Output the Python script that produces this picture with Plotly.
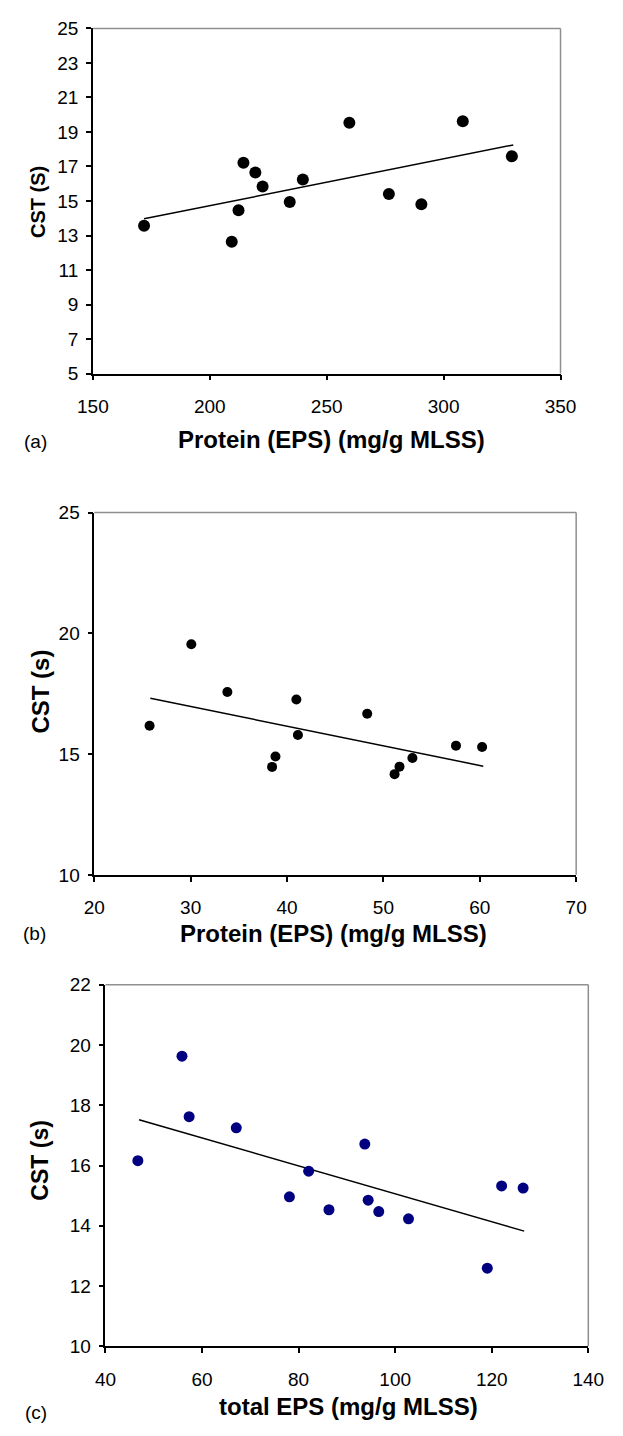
import plotly.graph_objects as go

W, H = 623, 1436

# ---- data ----
a_protein = [171.9, 209.4, 212.3, 214.4, 219.5, 222.6, 234.2, 239.8, 259.7, 276.6, 290.5, 308.2, 329.2]
a_cst = [13.57, 12.64, 14.47, 17.22, 16.65, 15.84, 14.94, 16.24, 19.54, 15.40, 14.81, 19.62, 17.59]
a_trend_x = [171.9, 329.8]
a_trend_y = [13.97, 18.25]

b_protein = [25.74, 30.07, 33.81, 38.45, 38.80, 40.97, 41.13, 48.32, 51.16, 51.67, 53.01, 57.53, 60.24]
b_cst = [16.17, 19.55, 17.57, 14.47, 14.90, 17.26, 15.79, 16.67, 14.17, 14.48, 14.84, 15.35, 15.29]
b_trend_x = [25.82, 60.36]
b_trend_y = [17.31, 14.50]

c_eps = [46.71, 55.85, 57.33, 67.09, 78.10, 82.08, 86.29, 93.71, 94.41, 96.60, 102.76, 119.08, 122.05, 126.50]
c_cst = [16.16, 19.63, 17.62, 17.25, 14.96, 15.81, 14.53, 16.71, 14.85, 14.47, 14.23, 12.59, 15.32, 15.25]
c_trend_x = [46.95, 126.73]
c_trend_y = [17.52, 13.82]

FONT = "Arial, Liberation Sans, sans-serif"

panels = [
    dict(x=a_protein, y=a_cst, tx=a_trend_x, ty=a_trend_y, color="#000000", msize=12,
         xr=[150, 350], xd=50, yr=[5, 25], yd=2,
         px=(81, 574), py=(18.7, 369),
         ytitle="CST (S)", ytpos=(23, 195), ytsize=20,
         xtitle="Protein (EPS) (mg/g MLSS)", xtpos=(333, 436),
         lab="(a)", labpos=(21, 438)),
    dict(x=b_protein, y=b_cst, tx=b_trend_x, ty=b_trend_y, color="#000000", msize=10,
         xr=[20, 70], xd=10, yr=[10, 25], yd=5,
         px=(82.5, 590.5), py=(510, 877.7),
         ytitle="CST (s)", ytpos=(26, 692), ytsize=24,
         xtitle="Protein (EPS) (mg/g MLSS)", xtpos=(335, 937),
         lab="(b)", labpos=(19, 937)),
    dict(x=c_eps, y=c_cst, tx=c_trend_x, ty=c_trend_y, color="#000080", msize=11,
         xr=[40, 140], xd=20, yr=[10, 22], yd=2,
         px=(94.3, 603.3), py=(989.3, 1356),
         ytitle="CST (s)", ytpos=(25, 1167), ytsize=23,
         xtitle="total EPS (mg/g MLSS)", xtpos=(350, 1417),
         lab="(c)", labpos=(21, 1423)),
]

fig = go.Figure()
annotations = []
shapes = []
layout = {}
for i, p in enumerate(panels, start=1):
    xa = "x" if i == 1 else f"x{i}"
    ya = "y" if i == 1 else f"y{i}"
    fig.add_trace(go.Scatter(x=p["tx"], y=p["ty"], mode="lines",
                             line=dict(color="black", width=1.5),
                             xaxis=xa, yaxis=ya, showlegend=False, hoverinfo="skip"))
    fig.add_trace(go.Scatter(x=p["x"], y=p["y"], mode="markers",
                             marker=dict(color=p["color"], size=p["msize"], line=dict(width=0)),
                             xaxis=xa, yaxis=ya, showlegend=False))
    xdom = [p["px"][0] / W, p["px"][1] / W]
    ydom = [1 - p["py"][1] / H, 1 - p["py"][0] / H]
    common = dict(showgrid=False, zeroline=False, showline=True, linecolor="black", linewidth=1.5,
                  ticks="outside", ticklen=5, tickwidth=1.5, tickcolor="black",
                  tickfont=dict(family=FONT, size=19, color="black"))
    layout[f"xaxis{'' if i == 1 else i}"] = dict(domain=xdom, range=p["xr"], dtick=p["xd"], tick0=p["xr"][0],
                                                anchor=ya, ticklabelstandoff=10, **common)
    layout[f"yaxis{'' if i == 1 else i}"] = dict(domain=ydom, range=p["yr"], dtick=p["yd"], tick0=p["yr"][0],
                                                anchor=xa, ticklabelstandoff=4, **common)
    # grey top and right borders
    shapes.append(dict(type="line", xref=f"{xa} domain", yref=f"{ya} domain", x0=0, x1=1, y0=1, y1=1,
                       line=dict(color="#8f8f8f", width=1.5)))
    shapes.append(dict(type="line", xref=f"{xa} domain", yref=f"{ya} domain", x0=1, x1=1, y0=0, y1=1,
                       line=dict(color="#8f8f8f", width=1.5)))
    annotations.append(dict(text=f"<b>{p['ytitle']}</b>", x=p["ytpos"][0] / W, y=1 - p["ytpos"][1] / H,
                            xref="paper", yref="paper", showarrow=False, textangle=-90,
                            xanchor="center", yanchor="middle",
                            font=dict(family=FONT, size=p["ytsize"], color="black")))
    annotations.append(dict(text=f"<b>{p['xtitle']}</b>", x=p["xtpos"][0] / W, y=1 - p["xtpos"][1] / H,
                            xref="paper", yref="paper", showarrow=False,
                            xanchor="center", yanchor="middle",
                            font=dict(family=FONT, size=24, color="black")))
    annotations.append(dict(text=p["lab"], x=p["labpos"][0] / W, y=1 - p["labpos"][1] / H,
                            xref="paper", yref="paper", showarrow=False,
                            xanchor="center", yanchor="middle",
                            font=dict(family=FONT, size=19, color="black")))

fig.update_layout(width=W, height=H, margin=dict(l=0, r=0, t=0, b=0),
                  paper_bgcolor="white", plot_bgcolor="white",
                  annotations=annotations, shapes=shapes, **layout)

fig.write_html("out.html")
